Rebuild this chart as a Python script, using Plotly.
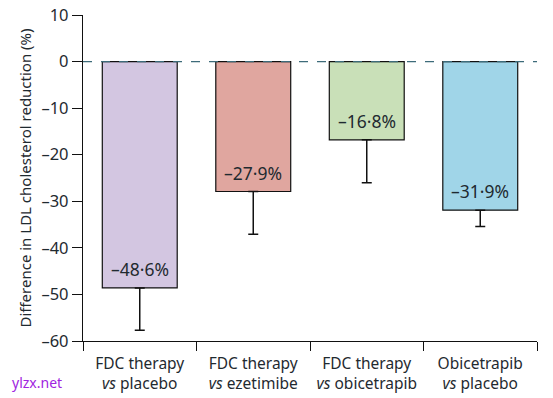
import plotly.graph_objects as go

categories = ["FDC therapy<br><i>vs</i> placebo", "FDC therapy<br><i>vs</i> ezetimibe",
              "FDC therapy<br><i>vs</i> obicetrapib", "Obicetrapib<br><i>vs</i> placebo"]
values = [-48.6, -27.9, -16.8, -31.9]
lower_ends = [-57.7, -37.1, -26.0, -35.4]
labels = ["–48·6%", "–27·9%", "–16·8%", "–31·9%"]
colors = ["#D3C6E1", "#E0A69F", "#C9E0B8", "#A0D5E8"]
y_ticks = [10, 0, -10, -20, -30, -40, -50, -60]
y_ticktext = ["10", "0", "–10", "–20", "–30", "–40", "–50", "–60"]

FONT = "Noto Sans"
ink = "#1f2a30"

fig = go.Figure()
fig.add_trace(go.Bar(
    x=categories, y=values, width=0.66,
    marker=dict(color=colors, line=dict(color="#111", width=1.2)),
    error_y=dict(type="data", symmetric=False,
                 array=[0] * len(values),
                 arrayminus=[v - l for v, l in zip(values, lower_ends)],
                 color="#111", thickness=1.5, width=5),
    hoverinfo="skip",
))
for c, v, t in zip(categories, values, labels):
    fig.add_annotation(x=c, y=v, text=t, showarrow=False, yshift=19,
                       font=dict(family=FONT, size=17.5, color=ink))

fig.add_hline(y=0, line=dict(color="#3d6b7a", width=1.2, dash="dash"), layer="above")

fig.add_annotation(xref="paper", yref="paper", x=-0.161, y=-0.126,
                   text="ylzx.net", showarrow=False, xanchor="left", yanchor="middle",
                   font=dict(family=FONT, size=14, color="#a023e0"))

fig.update_layout(
    width=553, height=398,
    margin=dict(l=83, r=16, t=15, b=57, autoexpand=False),
    plot_bgcolor="white", paper_bgcolor="white",
    showlegend=False,
    font=dict(family=FONT, size=15, color=ink),
    xaxis=dict(type="category", tickson="boundaries", ticks="outside", ticklen=9,
               tickwidth=1.3, tickcolor="#111", showline=True, linecolor="#111",
               linewidth=1.3, showgrid=False, zeroline=False, automargin=False,
               ticklabelstandoff=8,
               tickfont=dict(family=FONT, size=15.5, color=ink), range=[-0.5, 3.5]),
    yaxis=dict(range=[-60, 10], tickvals=y_ticks, ticktext=y_ticktext, ticks="outside",
               ticklen=10, tickwidth=1.3, tickcolor="#111", showline=True,
               linecolor="#111", linewidth=1.3, showgrid=False, zeroline=False,
               automargin=False,
               tickfont=dict(family=FONT, size=16.5, color=ink),
               title=dict(text="Difference in LDL cholesterol reduction (%)",
                          font=dict(family=FONT, size=15, color=ink), standoff=6)),
)

fig.write_html("out.html", config={"displayModeBar": False},
               post_script="document.body.style.margin='0';document.body.style.overflow='hidden';")
